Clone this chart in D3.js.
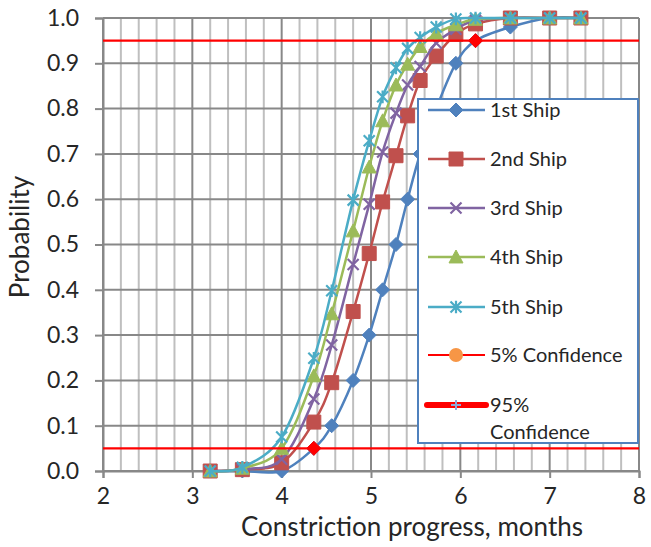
<!DOCTYPE html>
<html>
<head>
<meta charset="utf-8">
<script src="https://cdn.jsdelivr.net/npm/d3@7"></script>
<style>
  html, body { margin: 0; padding: 0; background: #fff; }
  svg { display: block; }
  text { font-family: Lato, "Open Sans", sans-serif; fill: #262626; }
</style>
</head>
<body>
<svg id="chart" width="651" height="547"></svg>
<script>
// Construction progress (months) at which each probability is read
const months = [3.2, 3.56, 4.0, 4.36, 4.56, 4.8, 4.98, 5.13, 5.28, 5.41, 5.55, 5.73, 5.95, 6.17, 6.56, 7.0, 7.35];

// Cumulative probability of completion for each ship
const ship1 = [0, 0, 0, 0.05, 0.1, 0.2, 0.3, 0.4, 0.5, 0.6, 0.7, 0.8, 0.9, 0.95, 0.98, 1, 1];
const ship2 = [0, 0.003, 0.018, 0.108, 0.195, 0.352, 0.48, 0.594, 0.696, 0.784, 0.862, 0.916, 0.964, 0.987, 1, 1, 1];
const ship3 = [0, 0.004, 0.026, 0.159, 0.278, 0.456, 0.589, 0.704, 0.79, 0.852, 0.893, 0.945, 0.975, 0.995, 1, 1, 1];
const ship4 = [0, 0.006, 0.05, 0.21, 0.347, 0.53, 0.671, 0.773, 0.852, 0.898, 0.937, 0.966, 0.985, 0.997, 1, 1, 1];
const ship5 = [0, 0.008, 0.075, 0.249, 0.398, 0.598, 0.729, 0.826, 0.89, 0.933, 0.957, 0.98, 0.998, 1, 1, 1, 1];

const seriesNames = ["1st Ship", "2nd Ship", "3rd Ship", "4th Ship", "5th Ship"];
const seriesColors = ["#4F81BD", "#C0504D", "#8064A2", "#9BBB59", "#4BACC6"];
const seriesMarkers = ["diamond", "square", "cross", "triangle", "star"];

// Confidence levels and where the 1st ship crosses them
const confidenceLevels = [0.05, 0.95];
const confidenceCross = [4.36, 6.17];
const confidenceNames = ["5% Confidence", "95% Confidence"];

const xTicks = [2, 3, 4, 5, 6, 7, 8];
const yTicks = [0, 0.1, 0.2, 0.3, 0.4, 0.5, 0.6, 0.7, 0.8, 0.9, 1.0];

const svg = d3.select("#chart");
const x = d3.scaleLinear().domain([2, 8]).range([103, 639]);
const y = d3.scaleLinear().domain([0, 1]).range([471, 18]);

// Marker shapes, centred at 0,0
function markerPath(kind, s) {
  const h = s / 2;
  switch (kind) {
    case "diamond": return `M0,${-h}L${h},0L0,${h}L${-h},0Z`;
    case "square": return `M${-h},${-h}H${h}V${h}H${-h}Z`;
    case "triangle": return `M0,${-h}L${h},${h * 0.85}L${-h},${h * 0.85}Z`;
    case "cross": return `M${-h},${-h}L${h},${h}M${h},${-h}L${-h},${h}`;
    case "star": return `M${-h},${-h}L${h},${h}M${h},${-h}L${-h},${h}M0,${-h * 1.15}V${h * 1.15}`;
  }
}
function drawMarker(g, kind, color, cx, cy) {
  const open = kind === "cross" || kind === "star";
  const sizes = { diamond: 14, square: 14, triangle: 14, cross: 11, star: 11 };
  g.append("path")
    .attr("d", markerPath(kind, sizes[kind]))
    .attr("transform", `translate(${cx},${cy})`)
    .attr("fill", open ? "none" : color)
    .attr("stroke", color)
    .attr("stroke-width", open ? 2.2 : 1);
}

// Gridlines
const grid = svg.append("g");
const minorX = d3.range(2, 8.001, 0.2).map(v => +v.toFixed(1)).filter(v => Math.abs(v - Math.round(v)) > 1e-6);
grid.selectAll(".vminor").data(minorX).join("line")
  .attr("x1", d => x(d)).attr("x2", d => x(d))
  .attr("y1", y(0)).attr("y2", y(1))
  .attr("stroke", "#BFBFBF").attr("stroke-width", 2);
grid.selectAll(".hgrid").data(yTicks).join("line")
  .attr("x1", x(2)).attr("x2", x(8))
  .attr("y1", d => y(d)).attr("y2", d => y(d))
  .attr("stroke", "#888888").attr("stroke-width", 2);
grid.selectAll(".vmajor").data(xTicks).join("line")
  .attr("x1", d => x(d)).attr("x2", d => x(d))
  .attr("y1", y(0)).attr("y2", y(1))
  .attr("stroke", "#888888").attr("stroke-width", 2);

// Axes
const yAxis = d3.axisLeft(y).tickValues(yTicks).tickFormat(d3.format(".1f")).tickSize(8).tickPadding(16);
const gy = svg.append("g").attr("transform", `translate(${x(2)},0)`).call(yAxis);
gy.select(".domain").attr("stroke", "#888888").attr("stroke-width", 2);
gy.selectAll(".tick line").attr("stroke", "#888888").attr("stroke-width", 2);
gy.selectAll(".tick text").style("font-family", "Lato, sans-serif").style("font-size", "23px").attr("fill", "#262626");

const xAxis = d3.axisBottom(x).tickValues(xTicks).tickFormat(d3.format("d")).tickSize(7).tickPadding(10);
const gx = svg.append("g").attr("transform", `translate(0,${y(0)})`).call(xAxis);
gx.select(".domain").attr("stroke", "#888888").attr("stroke-width", 2);
gx.selectAll(".tick line").attr("stroke", "#888888").attr("stroke-width", 2);
gx.selectAll(".tick text").style("font-family", "Lato, sans-serif").style("font-size", "23px").attr("fill", "#262626");

// Axis titles
svg.append("text").attr("x", 412).attr("y", 536)
  .attr("text-anchor", "middle").style("font-size", "26px")
  .text("Constriction progress, months");
svg.append("text").attr("transform", `translate(29,237) rotate(-90)`)
  .attr("text-anchor", "middle").style("font-size", "26px")
  .text("Probability");

// Ship series
const allShips = [ship1, ship2, ship3, ship4, ship5];
const line = d3.line().x(d => x(d[0])).y(d => y(d[1])).curve(d3.curveCatmullRom.alpha(0));
const plot = svg.append("g");
allShips.forEach((vals, i) => {
  const pts = months.map((m, j) => [m, vals[j]]);
  const g = plot.append("g");
  g.append("path").attr("d", line(pts)).attr("fill", "none")
    .attr("stroke", seriesColors[i]).attr("stroke-width", 2.5);
  pts.forEach(p => drawMarker(g, seriesMarkers[i], seriesColors[i], x(p[0]), y(p[1])));
});

// Confidence lines with their crossing points
confidenceLevels.forEach((lvl, i) => {
  plot.append("line").attr("x1", x(2)).attr("x2", x(8))
    .attr("y1", y(lvl)).attr("y2", y(lvl))
    .attr("stroke", "#FF0000").attr("stroke-width", 2.2);
  drawMarker(plot, "diamond", "#FF0000", x(confidenceCross[i]), y(lvl));
});

// Legend
const legend = svg.append("g");
legend.append("rect").attr("x", 418).attr("y", 99).attr("width", 220).attr("height", 344)
  .attr("fill", "#fff").attr("stroke", "#4F81BD").attr("stroke-width", 2);
const rowY = [110, 159, 208, 257, 307, 355, 405];
seriesNames.forEach((name, i) => {
  legend.append("line").attr("x1", 428).attr("x2", 485).attr("y1", rowY[i]).attr("y2", rowY[i])
    .attr("stroke", seriesColors[i]).attr("stroke-width", 2.5);
  drawMarker(legend, seriesMarkers[i], seriesColors[i], 456, rowY[i]);
  legend.append("text").attr("x", 490).attr("y", rowY[i]).attr("dy", "0.35em")
    .style("font-size", "20px").text(name);
});
// 5% Confidence entry
legend.append("line").attr("x1", 428).attr("x2", 485).attr("y1", rowY[5]).attr("y2", rowY[5])
  .attr("stroke", "#FF0000").attr("stroke-width", 2);
legend.append("circle").attr("cx", 456).attr("cy", rowY[5]).attr("r", 7).attr("fill", "#F79646");
legend.append("text").attr("x", 490).attr("y", rowY[5]).attr("dy", "0.35em")
  .style("font-size", "20px").text(confidenceNames[0]);
// 95% Confidence entry
legend.append("line").attr("x1", 427).attr("x2", 486).attr("y1", rowY[6]).attr("y2", rowY[6])
  .attr("stroke", "#FF0000").attr("stroke-width", 6).attr("stroke-linecap", "round");
legend.append("path").attr("d", "M-5,0H5M0,-5V5").attr("transform", `translate(456,${rowY[6]})`)
  .attr("stroke", "#8EA9DB").attr("stroke-width", 2);
const t95 = legend.append("text").attr("x", 490).attr("y", rowY[6]).attr("dy", "0.35em").style("font-size", "20px");
t95.append("tspan").attr("x", 490).text(confidenceNames[1].split(" ")[0]);
t95.append("tspan").attr("x", 490).attr("dy", "1.35em").text(confidenceNames[1].split(" ")[1]);
</script>
</body>
</html>
